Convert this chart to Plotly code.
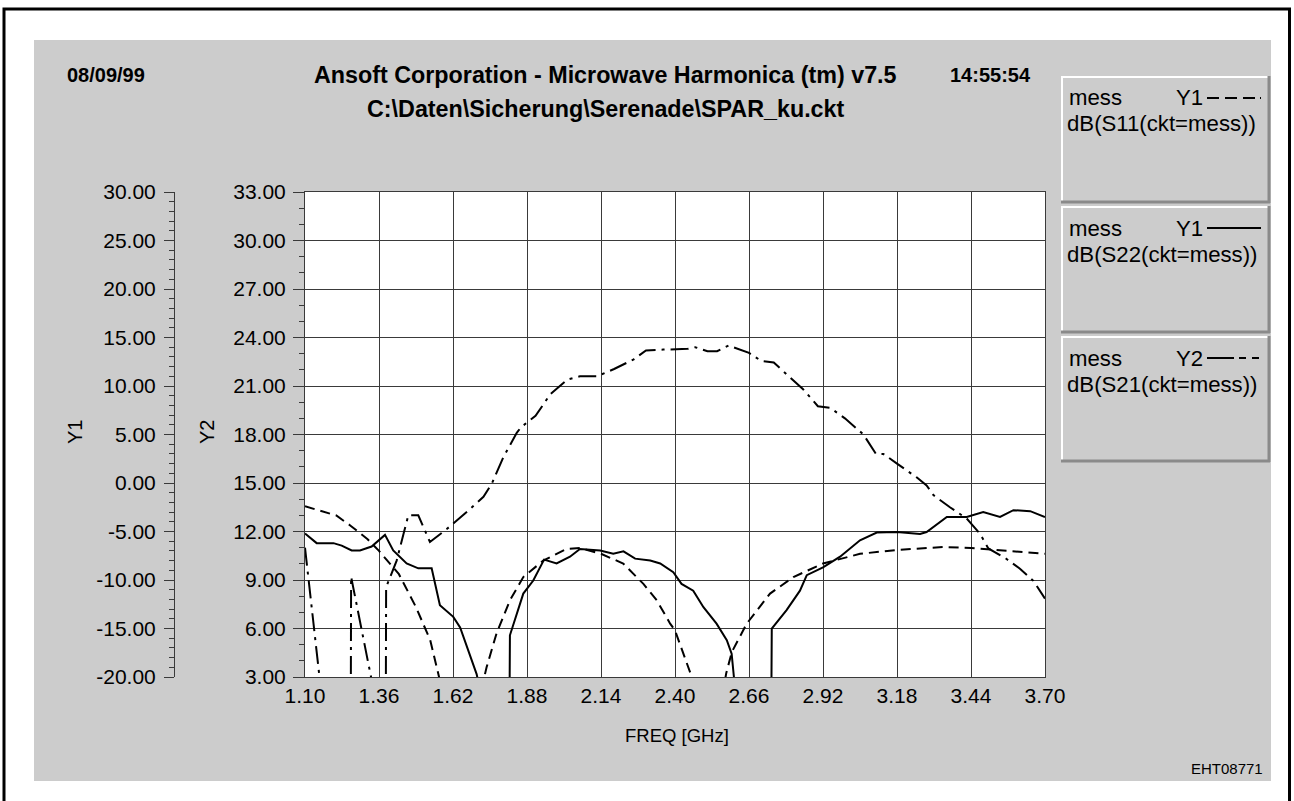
import plotly.graph_objects as go

W, H = 1294, 801

# ---------------- data ----------------
freq_ticks = [1.10, 1.36, 1.62, 1.88, 2.14, 2.40, 2.66, 2.92, 3.18, 3.44, 3.70]
freq_tick_labels = ["1.10", "1.36", "1.62", "1.88", "2.14", "2.40", "2.66", "2.92", "3.18", "3.44", "3.70"]
y1_ticks = [-20, -15, -10, -5, 0, 5, 10, 15, 20, 25, 30]
y1_tick_labels = ["-20.00", "-15.00", "-10.00", "-5.00", "0.00", "5.00", "10.00", "15.00", "20.00", "25.00", "30.00"]
y2_ticks = [3, 6, 9, 12, 15, 18, 21, 24, 27, 30, 33]
y2_tick_labels = ["3.00", "6.00", "9.00", "12.00", "15.00", "18.00", "21.00", "24.00", "27.00", "30.00", "33.00"]

# dB(S11) on Y1 (dashed)
s11_f = [1.10, 1.21, 1.26, 1.32, 1.36, 1.43, 1.49, 1.54, 1.571, 1.65, 1.738, 1.773, 1.82,
         1.867, 1.937, 2.019, 2.066, 2.14, 2.218, 2.289, 2.336, 2.383, 2.40, 2.459, 2.52,
         2.58, 2.60, 2.652, 2.734, 2.816, 2.92, 3.05, 3.18, 3.343, 3.44, 3.577, 3.70]
s11_db = [-2.4, -3.35, -4.4, -5.8, -7.0, -9.4, -12.8, -16.2, -20.0, -30.0, -19.0, -15.5, -12.1,
          -9.7, -8.0, -6.8, -6.7, -7.3, -8.3, -10.4, -12.1, -14.5, -15.2, -20.0, -30.0,
          -19.6, -17.4, -14.5, -11.4, -9.7, -8.3, -7.3, -6.9, -6.6, -6.7, -7.0, -7.3]

# dB(S22) on Y1 (solid)
s22_f = [1.10, 1.141, 1.20, 1.229, 1.264, 1.293, 1.334, 1.381, 1.41, 1.457, 1.498, 1.545,
         1.574, 1.621, 1.645, 1.703, 1.72, 1.815, 1.82, 1.867, 1.902, 1.94, 1.984, 2.031,
         2.066, 2.137, 2.183, 2.219, 2.26, 2.313, 2.348, 2.394, 2.423, 2.464, 2.50, 2.546,
         2.582, 2.599, 2.607, 2.62, 2.735, 2.74, 2.792, 2.839, 2.863, 2.92, 2.98, 3.05,
         3.109, 3.18, 3.261, 3.284, 3.355, 3.425, 3.483, 3.542, 3.589, 3.648, 3.70]
s22_db = [-5.2, -6.2, -6.2, -6.45, -6.95, -6.95, -6.55, -5.35, -6.95, -8.3, -8.8, -8.8,
          -12.6, -13.8, -14.9, -19.7, -22.0, -40.0, -15.7, -11.4, -10.05, -7.9, -8.3, -7.6,
          -6.8, -6.95, -7.3, -7.05, -7.8, -8.0, -8.3, -9.2, -10.4, -11.1, -12.8, -14.5,
          -16.2, -17.6, -20.0, -25.0, -40.0, -15.0, -13.1, -11.1, -9.5, -8.7, -7.6, -5.9,
          -5.1, -5.05, -5.25, -5.05, -3.5, -3.5, -3.0, -3.5, -2.8, -2.9, -3.5]

# dB(S21) on Y2 (dash-dot)
s21_f = [1.10, 1.153, 1.17, 1.26, 1.262, 1.332, 1.35, 1.383, 1.385, 1.422, 1.463, 1.498,
         1.539, 1.598, 1.668, 1.727, 1.756, 1.797, 1.844, 1.859, 1.91, 1.962, 2.022, 2.066,
         2.126, 2.186, 2.255, 2.298, 2.359, 2.445, 2.471, 2.514, 2.548, 2.588, 2.66, 2.703,
         2.747, 2.807, 2.85, 2.902, 2.945, 2.997, 3.043, 3.062, 3.106, 3.132, 3.18, 3.249,
         3.284, 3.308, 3.366, 3.425, 3.472, 3.501, 3.565, 3.612, 3.659, 3.70]
s21_db = [11.0, 3.2, 0.0, -5.0, 9.2, 3.0, 0.0, -5.0, 8.55, 10.2, 13.0, 13.0,
          11.35, 12.15, 13.2, 14.15, 14.95, 16.6, 18.1, 18.45, 19.15, 20.5, 21.4, 21.6,
          21.6, 22.05, 22.65, 23.2, 23.25, 23.3, 23.4, 23.15, 23.15, 23.5, 23.05, 22.55,
          22.45, 21.5, 20.8, 19.75, 19.65, 19.0, 18.3, 18.0, 16.8, 16.8, 16.2, 15.35,
          14.85, 14.25, 13.5, 12.8, 11.85, 10.95, 10.3, 9.7, 8.95, 7.85]

legend_rows = [("mess", "Y1", "dB(S11(ckt=mess))"),
               ("mess", "Y1", "dB(S22(ckt=mess))"),
               ("mess", "Y2", "dB(S21(ckt=mess))")]

# ---------------- layout helpers ----------------
def px(x):
    return x / W

def py(y):
    return 1 - y / H

FONT = "Liberation Sans, Arial, sans-serif"
PL, PR, PT, PB = 305, 1045, 192, 677

fig = go.Figure()

fig.add_trace(go.Scatter(x=s21_f, y=s21_db, mode="lines", yaxis="y",
                         line=dict(color="black", width=2, dash="18px,6px,3px,6px"),
                         name="dB(S21(ckt=mess))"))
fig.add_trace(go.Scatter(x=s11_f, y=s11_db, mode="lines", yaxis="y2",
                         line=dict(color="black", width=2, dash="10px,6px"),
                         name="dB(S11(ckt=mess))"))
fig.add_trace(go.Scatter(x=s22_f, y=s22_db, mode="lines", yaxis="y2",
                         line=dict(color="black", width=2),
                         name="dB(S22(ckt=mess))"))

tickfont = dict(family=FONT, size=21, color="black")

fig.update_layout(
    width=W, height=H,
    margin=dict(l=0, r=0, t=0, b=0, pad=0, autoexpand=False),
    paper_bgcolor="white",
    plot_bgcolor="white",
    showlegend=False,
    xaxis=dict(domain=[px(PL), px(PR)], range=[1.10, 3.70],
               tickvals=freq_ticks, ticktext=freq_tick_labels,
               showgrid=True, gridcolor="#3a3a3a", gridwidth=1,
               showline=True, linecolor="#3a3a3a", linewidth=1, mirror=True,
               ticks="", tickfont=tickfont, zeroline=False, automargin=False),
    yaxis=dict(domain=[py(PB), py(PT)], range=[3, 33],
               tickvals=y2_ticks, ticktext=y2_tick_labels,
               showgrid=True, gridcolor="#3a3a3a", gridwidth=1,
               showline=True, linecolor="#3a3a3a", linewidth=1, mirror=True,
               ticks="outside", ticklen=11, tickcolor="#3a3a3a", ticklabelstandoff=3,
               minor=dict(dtick=1, ticklen=5, tickcolor="#3a3a3a", ticks="outside", showgrid=False),
               tickfont=tickfont, zeroline=False, automargin=False),
    yaxis2=dict(overlaying="y", anchor="free", position=px(174), side="left",
                range=[-20, 30], tickvals=y1_ticks, ticktext=y1_tick_labels,
                showgrid=False, showline=True, linecolor="#3a3a3a", linewidth=1,
                ticks="outside", ticklen=10, tickcolor="#3a3a3a", ticklabelstandoff=4,
                minor=dict(dtick=1, ticklen=5, tickcolor="#3a3a3a", ticks="outside", showgrid=False),
                tickfont=tickfont, zeroline=False, automargin=False),
)

shapes = []
# gray panel then white plot area (both below traces/grid)
shapes.append(dict(type="rect", xref="paper", yref="paper", layer="below",
                   x0=px(34), x1=px(1271), y0=py(781), y1=py(40),
                   fillcolor="#cccccc", line=dict(width=0)))
shapes.append(dict(type="rect", xref="paper", yref="paper", layer="below",
                   x0=px(PL), x1=px(PR), y0=py(PB), y1=py(PT),
                   fillcolor="white", line=dict(width=0)))
# outer frame
shapes.append(dict(type="rect", xref="paper", yref="paper",
                   x0=px(4), x1=px(1289.5), y0=py(830), y1=py(9),
                   line=dict(color="black", width=3), fillcolor="rgba(0,0,0,0)"))

# legend boxes
box_tops = [76, 206, 336]
box_bottoms = [203, 333, 462]
bx0, bx1 = 1061, 1270
sample_dash = ["12px,6px,12px,6px,12px,5px,2px", "solid", "27px,5px,7px,6px,7px"]
annotations = []
leg_font = dict(family=FONT, size=22.2, color="black")
for i, (t, b) in enumerate(zip(box_tops, box_bottoms)):
    shapes.append(dict(type="rect", xref="paper", yref="paper", layer="below",
                       x0=px(bx0), x1=px(bx1), y0=py(b), y1=py(t),
                       fillcolor="#cccccc", line=dict(width=0)))
    # bevel: light top/left, dark bottom/right
    shapes.append(dict(type="line", xref="paper", yref="paper",
                       x0=px(bx0), x1=px(bx1), y0=py(t + 1), y1=py(t + 1),
                       line=dict(color="white", width=2)))
    shapes.append(dict(type="line", xref="paper", yref="paper",
                       x0=px(bx0 + 1), x1=px(bx0 + 1), y0=py(b), y1=py(t),
                       line=dict(color="white", width=2)))
    shapes.append(dict(type="line", xref="paper", yref="paper",
                       x0=px(bx0), x1=px(bx1), y0=py(b - 1), y1=py(b - 1),
                       line=dict(color="#8a8a8a", width=3)))
    shapes.append(dict(type="line", xref="paper", yref="paper",
                       x0=px(bx1 - 1), x1=px(bx1 - 1), y0=py(b), y1=py(t),
                       line=dict(color="#8a8a8a", width=3)))
    r1 = t + 22
    r2 = t + 48
    name, ax, label = legend_rows[i]
    annotations.append(dict(text=name, x=px(1067), y=py(r1), xref="paper", yref="paper",
                            xanchor="left", yanchor="middle", showarrow=False, font=leg_font))
    annotations.append(dict(text=ax, x=px(1205), y=py(r1), xref="paper", yref="paper",
                            xanchor="right", yanchor="middle", showarrow=False, font=leg_font))
    annotations.append(dict(text=label, x=px(1065), y=py(r2), xref="paper", yref="paper",
                            xanchor="left", yanchor="middle", showarrow=False, font=leg_font))
    shapes.append(dict(type="line", xref="paper", yref="paper",
                       x0=px(1207), x1=px(1261), y0=py(r1), y1=py(r1),
                       line=dict(color="black", width=2, dash=sample_dash[i])))

# header texts
bold_num = dict(family=FONT, size=20, color="black")
bold_txt = dict(family=FONT, size=23.3, color="black")
hdr = [
    dict(text="<b>08/09/99</b>", x=px(65), y=py(75), xanchor="left", yanchor="middle", font=bold_num),
    dict(text="<b>Ansoft Corporation - Microwave Harmonica (tm) v7.5</b>", x=px(605), y=py(75),
         xanchor="center", yanchor="middle", font=bold_txt),
    dict(text="<b>14:55:54</b>", x=px(1033), y=py(75), xanchor="right", yanchor="middle", font=bold_num),
    dict(text="<b>C:\\Daten\\Sicherung\\Serenade\\SPAR_ku.ckt</b>", x=px(606), y=py(109),
         xanchor="center", yanchor="middle", font=bold_txt),
]
for a in hdr:
    a.update(xref="paper", yref="paper", showarrow=False)
annotations += hdr

annotations += [
    dict(text="FREQ [GHz]", x=px(677), y=py(735), xanchor="center", yanchor="middle",
         xref="paper", yref="paper", showarrow=False,
         font=dict(family=FONT, size=18.5, color="black")),
    dict(text="Y1", x=px(75), y=py(432), xanchor="center", yanchor="middle", textangle=-90,
         xref="paper", yref="paper", showarrow=False,
         font=dict(family=FONT, size=20, color="black")),
    dict(text="Y2", x=px(207), y=py(432), xanchor="center", yanchor="middle", textangle=-90,
         xref="paper", yref="paper", showarrow=False,
         font=dict(family=FONT, size=20, color="black")),
    dict(text="EHT08771", x=px(1265), y=py(768), xanchor="right", yanchor="middle",
         xref="paper", yref="paper", showarrow=False,
         font=dict(family=FONT, size=15, color="black")),
]

fig.update_layout(shapes=shapes, annotations=annotations)

post = ("document.documentElement.style.margin='0px';"
        "document.body.style.margin='0px';"
        "document.body.style.padding='0px';"
        "document.body.style.overflow='hidden';")
fig.write_html("out.html", config={"displayModeBar": False}, post_script=post)
